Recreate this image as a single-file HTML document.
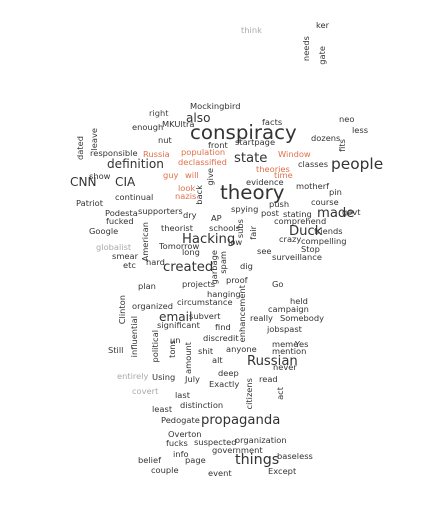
<!DOCTYPE html>
<html><head><meta charset="utf-8">
<style>
html,body{margin:0;padding:0;background:#fff;}
#cloud{position:relative;width:425px;height:510px;overflow:hidden;font-family:"DejaVu Sans","Liberation Sans",sans-serif;}
#cloud span{position:absolute;white-space:nowrap;line-height:1;}
#cloud span.v{writing-mode:vertical-rl;transform:rotate(180deg);}
</style></head>
<body>
<div id="cloud"></div>
<script>
const D='#333',G='#444',L='#aaa',O='#e0704a';
const words=[
["think",241,31,7,L,0],["ker",316,26,7,D,0],["needs",306,36,7,D,1],["gate",322,46,7,D,1],
["Mockingbird",190,107,7,D,0],["right",149,114,7,G,0],["also",186,119,11,D,0],["facts",262,123,7,D,0],["neo",339,120,7,D,0],
["enough",132,128,7,D,0],["MKUltra",162,125,7,D,0],["conspiracy",190,134,18,D,0],["less",352,131,7,D,0],
["nut",158,141,7,D,0],["front",208,146,7,D,0],["startpage",235,143,7,D,0],["dozens",311,139,7,D,0],["fits",342,139,7,D,1],
["dated",80,136,7,D,1],["leave",94,128,7,D,1],
["responsible",90,154,7,D,0],["Russia",143,155,7,O,0],["population",181,153,7,O,0],["Window",278,155,7,O,0],
["declassified",178,163,7,O,0],["state",234,159,12,D,0],["definition",107,165,11,D,0],["classes",298,165,7,D,0],["people",331,165,14,D,0],
["theories",256,170,7,O,0],["time",274,176,7,O,0],
["CNN",70,183,11,D,0],["show",89,177,7,D,0],["CIA",115,183,11,D,0],["guy",163,176,7,O,0],["will",185,176,7,O,0],["give",210,168,7,D,1],["evidence",246,183,7,D,0],
["look",178,189,7,O,0],["back",199,185,7,D,1],["theory",220,194,18,D,0],["motherf",296,187,7,D,0],
["nazis",175,197,7,O,0],["continual",115,198,7,D,0],["pin",329,193,7,D,0],
["Patriot",76,204,7,D,0],["push",269,205,7,D,0],["course",311,203,7,D,0],
["Podesta",105,214,7,D,0],["supporters",138,212,7,D,0],["dry",183,216,7,D,0],["spying",231,210,7,D,0],["post",261,214,7,D,0],["stating",283,215,7,D,0],["made",317,214,12,D,0],["govt",342,213,7,D,0],
["fucked",106,222,7,D,0],["AP",211,219,7,D,0],["comprehend",274,222,7,D,0],
["Google",89,232,7,D,0],["American",145,222,7,D,1],["theorist",161,229,7,D,0],["schools",209,229,7,D,0],["subs",240,219,7,D,1],["fair",253,226,7,D,1],["Duck",289,232,12,D,0],["friends",314,232,7,D,0],
["Hacking",182,240,12,D,0],["low",228,243,7,D,0],["crazy",279,240,7,D,0],["compelling",301,242,7,D,0],
["globalist",96,248,7,L,0],["Tomorrow",159,247,7,D,0],["Stop",301,250,7,D,0],
["smear",112,257,7,D,0],["long",182,253,7,D,0],["see",257,252,7,D,0],["garbage",214,250,7,D,1],["spam",223,251,7,D,1],["surveillance",272,258,7,D,0],
["etc",123,266,7,D,0],["hard",146,263,7,D,0],["created",163,268,12,D,0],["dig",240,267,7,D,0],
["plan",138,287,7,D,0],["projects",182,285,7,D,0],["proof",226,281,7,D,0],["Go",272,285,7,D,0],
["hanging",207,295,7,D,0],
["Clinton",122,295,7,D,1],["organized",132,307,7,D,0],["circumstance",177,303,7,D,0],["enhancement",242,285,7,D,1],["held",290,302,7,D,0],["campaign",268,310,7,D,0],
["email",159,318,11,D,0],["subvert",189,317,7,D,0],["really",250,319,7,D,0],["Somebody",280,319,7,D,0],
["significant",157,326,7,D,0],["find",215,328,7,D,0],["jobspast",267,330,7,D,0],
["influential",134,316,7,D,1],["political",155,330,7,D,1],["un",170,341,7,D,0],["discredit",203,339,7,D,0],["meme",272,345,7,D,0],["Yes",295,345,7,D,0],
["tons",172,340,7,D,1],["amount",188,342,7,D,1],["Still",108,351,7,D,0],["shit",198,352,7,D,0],["anyone",226,350,7,D,0],["mention",272,352,7,D,0],
["alt",212,361,7,D,0],["Russian",247,362,12,D,0],["never",273,368,7,D,0],
["deep",218,374,7,D,0],["entirely",117,377,7,L,0],["Using",152,378,7,D,0],["July",185,380,7,D,0],["Exactly",209,385,7,D,0],["read",259,380,7,D,0],["citizens",249,378,7,D,1],["act",280,387,7,D,1],
["covert",132,392,7,L,0],["last",175,396,7,D,0],
["least",152,410,7,D,0],["distinction",180,406,7,D,0],
["Pedogate",161,421,7,D,0],["propaganda",201,421,12,D,0],
["Overton",168,435,7,D,0],["fucks",166,444,7,D,0],["suspected",194,443,7,D,0],["organization",235,441,7,D,0],["government",212,451,7,D,0],["info",173,455,7,D,0],
["belief",138,461,7,D,0],["page",185,461,7,D,0],["things",235,461,13,D,0],["baseless",277,457,7,D,0],
["couple",151,471,7,D,0],["event",208,474,7,D,0],["Except",268,472,7,D,0]
];
const c=document.getElementById('cloud');
words.forEach(w=>{
  const s=document.createElement('span');
  s.textContent=w[0];
  
  
  const fs=w[3]<=7?8.3:w[3]*1.1;
  s.style.fontSize=fs+'px';
  s.style.color=w[4];
  if(w[5]){
    s.className='v';
    s.style.left=(w[1]-fs/2)+'px';
    s.style.top=w[2]+'px';
  }else{
    s.style.left=w[1]+'px';
    s.style.top=(w[2]-fs*0.55)+'px';
  }
  c.appendChild(s);
});
</script>
</body></html>
